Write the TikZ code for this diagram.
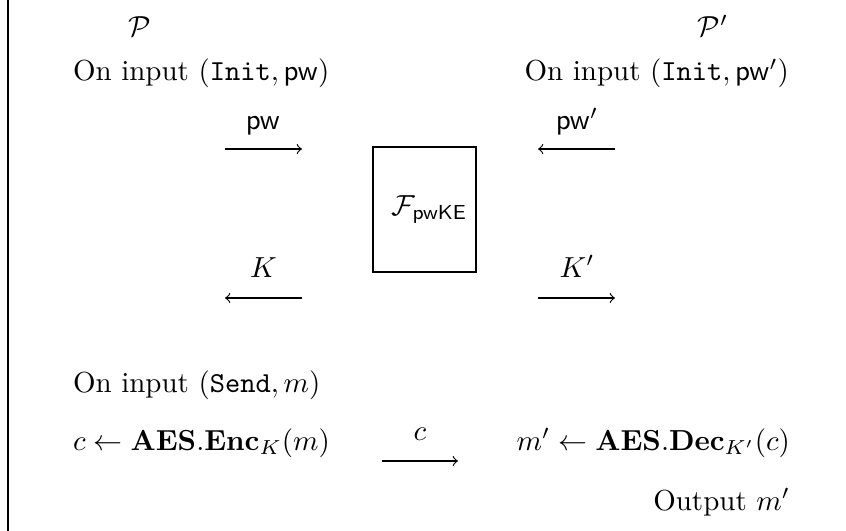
\documentclass[tikz,border=0pt]{standalone}
\usetikzlibrary{arrows}
\begin{document}
\begin{tikzpicture}[x=0.345pt,y=-0.345pt,
  every node/.style={inner sep=0pt, outer sep=0pt},
  msg/.style={->, line width=0.4pt},
  func/.style={draw, line width=0.4pt, minimum width=35.5pt, minimum height=43.1pt, inner sep=0pt}]
\useasboundingbox (0,0) rectangle (846,531);
\coordinate (ftop) at (8,0);
\coordinate (fbot) at (8,531);
\draw[line width=0.4pt] (ftop) -- (fbot);

% parties
\node[anchor=base] (P) at (140,37) {$\mathcal{P}$};
\node[anchor=base] (Pp) at (713,37) {$\mathcal{P}'$};
\node[anchor=base west] (inL) at (73,81) {On input $(\mathtt{Init},\mathsf{pw})$};
\node[anchor=base east] (inR) at (789,81) {On input $(\mathtt{Init},\mathsf{pw}')$};

% functionality
\node[func] (F) at (424.5,209.5) {\hspace*{3.5pt}$\mathcal{F}_{\mathsf{pwKE}}$};

% pw arrows
\coordinate (a1s) at (225,149); \coordinate (a1e) at (302,149);
\draw[msg] (a1s) -- (a1e);
\node[anchor=base] (l1) at (263,130) {$\mathsf{pw}$};
\coordinate (a2s) at (615,149); \coordinate (a2e) at (538,149);
\draw[msg] (a2s) -- (a2e);
\node[anchor=base] (l2) at (577,130) {$\mathsf{pw}'$};

% key arrows
\coordinate (a3s) at (302,298); \coordinate (a3e) at (225,298);
\draw[msg] (a3s) -- (a3e);
\node[anchor=base] (l3) at (263.5,277) {$K$};
\coordinate (a4s) at (538,298); \coordinate (a4e) at (615,298);
\draw[msg] (a4s) -- (a4e);
\node[anchor=base] (l4) at (577,277) {$K'$};

% sending
\node[anchor=base west] (send) at (73,392) {On input $(\mathtt{Send},m)$};
\node[anchor=base west] (enc) at (73,450) {$c \leftarrow \mathbf{AES}.\mathbf{Enc}_K(m)$};
\coordinate (a5s) at (382,461); \coordinate (a5e) at (458,461);
\draw[msg] (a5s) -- (a5e);
\node[anchor=base] (l5) at (420,440) {$c$};
\node[anchor=base east] (dec) at (790,450) {$m' \leftarrow \mathbf{AES}.\mathbf{Dec}_{K'}(c)$};
\node[anchor=base east] (out) at (790,510) {Output $m'$};
\end{tikzpicture}
\end{document}
